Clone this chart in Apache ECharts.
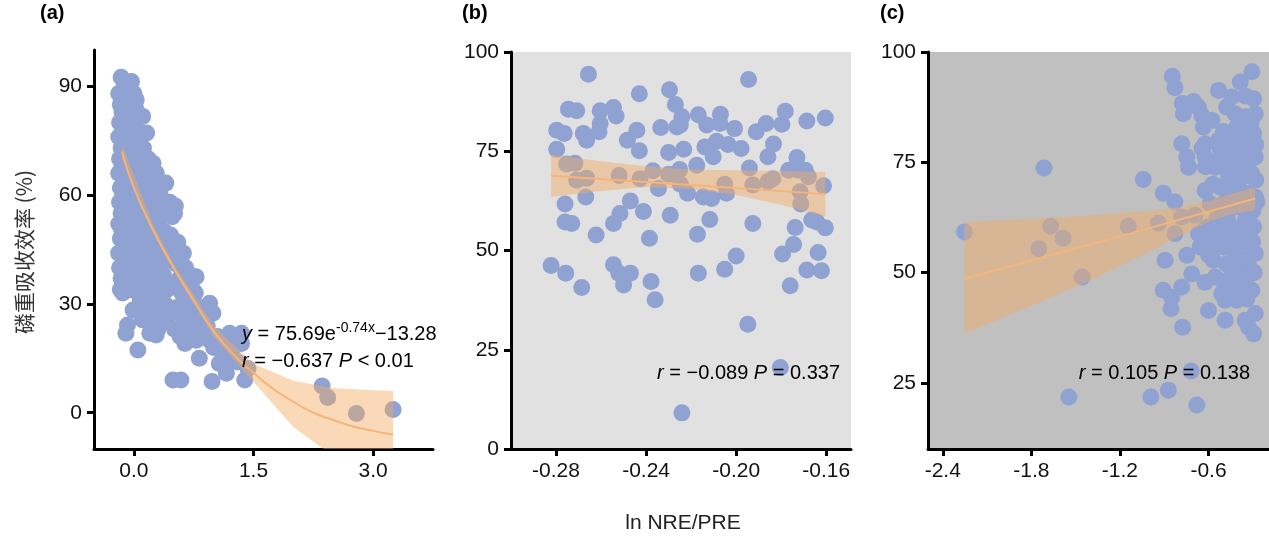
<!DOCTYPE html>
<html lang="zh">
<head>
<meta charset="UTF-8">
<title>chart</title>
<script src="https://cdn.jsdelivr.net/npm/echarts@6/dist/echarts.min.js"></script>
<style>html,body{margin:0;padding:0;background:#fff;}</style>
</head>
<body>
<div id="main" style="width:1269px;height:542px;"></div>
<script type="text/javascript">
// (a) 散点 ln(N/P) vs 磷重吸收效率
var ptsA = [
  [-0.16,92.5],[-0.03,91.3],[0.05,17.3],[-0.01,28.3],[-0.08,24.2],[-0.10,21.9],[0.59,9],[0.49,9],[0.98,8.6],
  [0.82,15],[1.07,13.6],[1.16,10.9],[1.20,21.9],[1.35,21.9],[1.35,19.1],[1.39,9],[1.43,12.2],
  [2.36,7.4],[2.43,4.2],[2.79,-0.2],[3.25,0.9],[0.40,63.3],[0.51,55],[0.45,56.9],[0.95,30.2],[0.99,27.4],
  [0.78,37.5],[0.74,33.9],[0.91,22.8],[0.66,20.1],[0.64,19.1],[0.28,21.4],[0.20,21.9],[0.11,25.6],
  [0.66,25.6],[0.49,28.3],[0.78,24.7],[1.07,20.1],[0.24,68.8],[0.28,66],[0.16,77.1],[0.11,81.7],[0.03,86.3],
  [-0.19,88],[-0.17,85],[-0.18,80],[-0.15,83],[-0.19,76],[-0.16,73],[-0.18,70],[-0.14,78],[-0.19,66],[-0.17,62],
  [-0.15,68],[-0.18,58],[-0.16,55],[-0.19,52],[-0.14,60],[-0.17,48],[-0.19,44],[-0.15,50],[-0.18,40],[-0.16,37],
  [-0.13,42],[-0.17,34],[-0.14,33],[-0.11,36],
  [-0.10,89],[-0.08,86],[-0.12,90],[-0.06,84],[-0.10,80],[-0.07,77],[-0.11,74],[-0.05,72],[-0.09,69],[-0.12,65],
  [-0.06,63],[-0.10,59],[-0.08,56],[-0.12,53],[-0.05,51],[-0.09,47],[-0.11,44],[-0.06,41],[-0.08,38],[-0.12,35],
  [-0.04,34],[-0.02,37],
  [0.00,88],[0.02,84],[-0.01,80],[0.03,78],[0.01,74],[0.04,70],[-0.02,67],[0.02,64],[0.05,61],[0.00,58],[0.03,54],
  [0.06,50],[0.01,47],[0.04,43],[0.07,40],[0.02,36],[0.05,33],[0.08,31],[0.10,34],
  [0.08,82],[0.10,77],[0.12,73],[0.09,68],[0.13,65],[0.11,60],[0.14,56],[0.10,52],[0.15,48],[0.12,44],[0.16,40],
  [0.13,37],[0.18,32],[0.15,28],[0.11,26],
  [0.18,70],[0.20,66],[0.22,62],[0.19,58],[0.24,55],[0.21,51],[0.26,47],[0.23,43],[0.27,39],[0.25,35],[0.29,31],
  [0.26,27],[0.22,24],[0.30,23],
  [0.30,64],[0.33,60],[0.36,57],[0.31,53],[0.38,50],[0.34,46],[0.40,42],[0.37,38],[0.42,34],[0.39,30],[0.44,27],[0.35,25],
  [0.45,58],[0.48,54],[0.52,57],[0.46,49],[0.50,45],[0.55,47],[0.53,41],[0.57,37],[0.49,35],[0.60,33],[0.54,29],
  [0.62,26],[0.51,23],[0.58,21],[0.66,22],
  [0.62,44],[0.65,40],[0.68,36],[0.71,38],[0.70,31],[0.74,28],[0.67,27],[0.77,33],[0.80,25],[0.72,23],[0.84,29],
  [0.88,26],[0.85,21],[0.92,24],[0.95,20],[0.78,20],[1.0,18],[1.05,21],[1.1,17],[1.15,19],[1.22,15],[1.25,18],[1.30,14]
];
var fitA = [[-0.15,72],[0,62],[0.25,50],[0.5,40],[0.75,31],[1.0,22.5],[1.25,16],[1.5,11],[1.75,6.5],[2.0,3],
  [2.25,0],[2.5,-2],[2.75,-3.8],[3.0,-5],[3.25,-6]];
// [x, 下限, 上限]
var bandA = [[-0.15,70,74],[0.25,49,51.5],[0.5,39,41],[1.0,21,24],[1.5,8.5,13.5],[2.0,-4,8.8],[2.38,-10,7.2],
  [2.5,-10,6.8],[3.0,-10,6.2],[3.25,-10,6]];

// (b)
var ptsB = [
  [-0.2822,46.2],[-0.2797,75.5],[-0.2797,80.3],[-0.2764,79.5],[-0.2757,44.3],[-0.276,61.7],[-0.276,57.2],
  [-0.273,56.8],[-0.2745,85.6],[-0.2708,85.2],[-0.2753,71.8],[-0.2716,72],[-0.2708,67.7],[-0.2686,40.7],
  [-0.2679,79.5],[-0.2664,77.8],[-0.2668,63.5],[-0.2656,94.4],[-0.2664,68.2],[-0.2622,53.9],[-0.2604,85.2],
  [-0.2604,82],[-0.2609,79.9],[-0.2545,86],[-0.2533,83.9],[-0.2545,56.8],[-0.2516,59.3],[-0.2545,46.4],
  [-0.2521,44.3],[-0.25,41.3],[-0.247,44.3],[-0.252,68.9],[-0.2483,77.8],[-0.247,62.5],[-0.2441,80.3],
  [-0.243,89.5],[-0.243,75.1],[-0.2427,68.1],[-0.2412,59.8],[-0.2385,53.1],[-0.2378,42.2],[-0.236,37.6],
  [-0.237,70.1],[-0.2345,65.6],[-0.2335,81],[-0.2296,90.5],[-0.23,74.7],[-0.2293,58.9],[-0.23,69.2],
  [-0.227,86.8],[-0.2263,81.1],[-0.2241,83.7],[-0.2248,81.6],[-0.2251,70.4],[-0.2248,66.7],[-0.2233,75.5],
  [-0.2216,64.4],[-0.2241,9.1],[-0.2175,71.5],[-0.2172,54.1],[-0.2168,84.2],[-0.2168,44.3],[-0.2131,81.6],
  [-0.2139,76.1],[-0.2146,63.5],[-0.2109,63.1],[-0.2117,57.8],[-0.2102,73.6],[-0.2087,77.5],[-0.207,84.3],
  [-0.2072,82],[-0.2051,66.7],[-0.2043,64.4],[-0.2051,45.3],[-0.2036,76.7],[-0.2007,80.7],[-0.2,48.6],
  [-0.1978,75.7],[-0.1945,93.1],[-0.1941,70.8],[-0.1948,31.4],[-0.1926,66.5],[-0.1926,56.8],[-0.1911,79.9],
  [-0.1867,82],[-0.1859,73.6],[-0.1859,67.3],[-0.1834,76.8],[-0.1837,68.1],[-0.1804,20.5],[-0.1794,49.1],
  [-0.1797,81.8],[-0.1782,85.1],[-0.1767,70.2],[-0.176,41.1],[-0.1745,51.5],[-0.1738,55.8],[-0.173,73.4],
  [-0.1724,70.2],[-0.1716,64.8],[-0.1713,61.7],[-0.1693,70.2],[-0.1686,82.6],[-0.1686,45.1],[-0.1679,68.6],
  [-0.1664,57.7],[-0.1642,57.2],[-0.1636,49.5],[-0.1621,44.9],[-0.1612,66.3],[-0.1604,83.4],[-0.1604,55.7]
];
var fitB = [[-0.2822,68.8],[-0.22,66.5],[-0.1604,64.2]];
var bandB = [[-0.2822,63.5,74.2],[-0.26,65,72.5],[-0.24,66,71.2],[-0.22,65.5,70.4],[-0.20,64,70.2],
  [-0.18,61.5,70],[-0.1604,58.5,69.8]];

// (c)
var ptsC = [
  [-2.253,59.2],[-1.714,73.7],[-1.669,60.5],[-1.750,55.4],[-1.585,57.8],[-1.456,49],[-1.546,21.8],[-1.143,60.5],
  [-1.042,71.1],[-0.990,21.8],[-0.940,61.2],[-0.906,68],[-0.894,52.8],[-0.906,46],[-0.849,44.4],[-0.854,41.8],
  [-0.845,94.5],[-0.827,91.9],[-0.872,23.3],[-0.827,66],[-0.827,58.8],[-0.781,79.2],[-0.777,88.3],[-0.770,86],
  [-0.781,46.7],[-0.775,37.6],[-0.781,62.6],[-0.747,76.2],[-0.735,73.9],[-0.747,53.9],[-0.718,27.7],[-0.713,49.7],
  [-0.679,20],[-0.702,88.8],[-0.668,87.5],[-0.645,85.6],[-0.691,63],[-0.668,58.8],[-0.657,55.8],[-0.634,83],
  [-0.623,79.2],[-0.645,78.1],[-0.623,76.2],[-0.623,68.6],[-0.623,47.8],[-0.600,60.3],[-0.600,41.4],[-0.589,65.6],
  [-0.600,57.3],[-0.577,84.5],[-0.555,73.9],[-0.566,52.8],[-0.555,49],[-0.544,62.2],[-0.532,91.3],[-0.532,80],
  [-0.521,69.4],[-0.521,59.6],[-0.510,45.2],[-0.498,76.2],[-0.498,65.6],[-0.492,55.8],[-0.487,43.7],[-0.487,39.2],
  [-0.476,87.5],[-0.464,81.5],[-0.464,72.4],[-0.464,64.1],[-0.453,51.3],[-0.442,89.8],[-0.442,77.3],[-0.442,58.8],
  [-0.430,46.7],[-0.419,70.9],[-0.419,54.3],[-0.408,83],[-0.408,43.7],[-0.396,64.9],[-0.396,50.5],[-0.385,93.2],
  [-0.385,79.2],[-0.374,73.9],[-0.374,59.6],[-0.362,45.2],[-0.351,85.3],[-0.351,67.9],[-0.351,39.2],[-0.340,55.8],
  [-0.328,78.5],[-0.328,62.6],[-0.328,37.6],[-0.317,49.7],[-0.306,95.5],[-0.306,72.4],[-0.306,46],[-0.294,89.4],
  [-0.294,81.5],[-0.294,60.4],[-0.294,36.1],[-0.283,86],[-0.283,76.2],[-0.283,67.1],[-0.283,54.3],[-0.283,40.7],
  [-0.272,66],
  [-0.55,75],[-0.52,78],[-0.50,82],[-0.48,70],[-0.46,68],[-0.45,75],[-0.43,80],[-0.41,74],[-0.40,70],[-0.38,76],
  [-0.36,82],[-0.34,72],[-0.32,68],[-0.30,76],[-0.30,64],[-0.32,58],[-0.35,62],[-0.38,56],[-0.42,60],[-0.45,57],
  [-0.48,52],[-0.50,48],[-0.52,56],[-0.56,60],[-0.58,56],[-0.60,54],[-0.62,60],[-0.47,62],[-0.37,66],[-0.33,52],
  [-0.29,50],[-0.36,48],[-0.40,53],[-0.44,49],[-0.53,65],[-0.57,70],[-0.62,74],[-0.42,86],[-0.35,90],[-0.31,84],
  [-0.28,79],[-0.28,71],[-0.30,57],[-0.34,44],[-0.39,47]
];
var fitC = [[-2.253,48.6],[-1.2,58.2],[-0.283,66.8]];
var bandC = [[-2.253,36.1,61.5],[-1.8,42.5,62.2],[-1.4,48.2,63.0],[-1.0,54.8,64.0],[-0.8,58.2,64.8],
  [-0.6,61.5,66.2],[-0.45,63.2,67.8],[-0.283,64.1,69.4]];

var ticksAx = [0, 1.5, 3.0], ticksAy = [0, 30, 60, 90];
var ticksBx = [-0.28, -0.24, -0.20, -0.16];
var ticksCx = [-2.4, -1.8, -1.2, -0.6], ticksCy = [25, 50, 75, 100];

var FONT = 'Liberation Sans, Arial, sans-serif';
var DOT = '#8fa2d2', BANDC = 'rgba(245,170,100,0.45)', LINEC = '#f5b47a';
var FS = 21;

function axisBase(extra) {
    var o = {
        type: 'value', splitLine: {show: false},
        axisLine: {show: true, onZero: false, lineStyle: {color: '#000', width: 3}},
        axisTick: {show: true, length: 7, lineStyle: {color: '#000', width: 3}},
        axisLabel: {color: '#111', fontSize: FS, fontFamily: FONT, margin: 12}
    };
    for (var k in extra) {
        if (typeof extra[k] === 'object' && o[k] && !Array.isArray(extra[k])) {
            for (var j in extra[k]) o[k][j] = extra[k][j];
        } else o[k] = extra[k];
    }
    return o;
}

function bandSeries(band, idx) {
    return {
        type: 'custom', xAxisIndex: idx, yAxisIndex: idx, z: 5, clip: true,
        data: [band[0]],
        renderItem: function (params, api) {
            var pts = [];
            band.forEach(function (d) { pts.push(api.coord([d[0], d[2]])); });
            for (var i = band.length - 1; i >= 0; i--) pts.push(api.coord([band[i][0], band[i][1]]));
            return {type: 'polygon', shape: {points: pts}, style: {fill: BANDC}};
        }
    };
}
function scatterSeries(pts, idx) {
    return {type: 'scatter', xAxisIndex: idx, yAxisIndex: idx, data: pts, symbolSize: 17,
        itemStyle: {color: DOT, opacity: 1}, z: 2};
}
function lineSeries(fit, idx) {
    return {type: 'line', xAxisIndex: idx, yAxisIndex: idx, data: fit, smooth: true, symbol: 'none',
        lineStyle: {color: LINEC, width: 2}, z: 6};
}

var myChart = echarts.init(document.getElementById('main'));
myChart.setOption({
    animation: false,
    grid: [
        {left: 94, top: 50, width: 339, height: 399},
        {left: 511, top: 52, width: 340, height: 397, show: true, backgroundColor: '#e1e1e1', borderWidth: 0},
        {left: 928, top: 52, width: 341, height: 397, show: true, backgroundColor: '#c0c0c0', borderWidth: 0}
    ],
    xAxis: [
        axisBase({gridIndex: 0, min: -0.5, max: 3.75,
            axisTick: {customValues: ticksAx},
            axisLabel: {customValues: ticksAx, formatter: function (v) { return v.toFixed(1); }}}),
        axisBase({gridIndex: 1, min: -0.30, max: -0.149,
            axisTick: {customValues: ticksBx},
            axisLabel: {customValues: ticksBx, formatter: function (v) { return v.toFixed(2); }}}),
        axisBase({gridIndex: 2, min: -2.5, max: -0.19,
            axisTick: {customValues: ticksCx},
            axisLabel: {customValues: ticksCx, formatter: function (v) { return v.toFixed(1); }}})
    ],
    yAxis: [
        axisBase({gridIndex: 0, min: -10, max: 100,
            axisTick: {customValues: ticksAy}, axisLabel: {customValues: ticksAy}}),
        axisBase({gridIndex: 1, min: 0, max: 100, interval: 25}),
        axisBase({gridIndex: 2, min: 10, max: 100,
            axisTick: {customValues: ticksCy}, axisLabel: {customValues: ticksCy}})
    ],
    series: [
        scatterSeries(ptsA, 0), bandSeries(bandA, 0), lineSeries(fitA, 0),
        scatterSeries(ptsB, 1), bandSeries(bandB, 1), lineSeries(fitB, 1),
        scatterSeries(ptsC, 2), bandSeries(bandC, 2), lineSeries(fitC, 2)
    ],
    graphic: [
        {type: 'text', left: 40, top: 3, style: {text: '(a)', font: 'bold 20px ' + FONT, fill: '#000'}},
        {type: 'text', left: 462, top: 3, style: {text: '(b)', font: 'bold 20px ' + FONT, fill: '#000'}},
        {type: 'text', left: 880, top: 3, style: {text: '(c)', font: 'bold 20px ' + FONT, fill: '#000'}},
        {type: 'text', x: 24, y: 252, rotation: Math.PI / 2,
            style: {text: '磷重吸收效率 (%)', font: '21px "Noto Sans CJK SC", ' + FONT, fill: '#333',
                align: 'center', verticalAlign: 'middle'}},
        {type: 'text', x: 683, y: 523,
            style: {text: 'ln NRE/PRE', font: '21px ' + FONT, fill: '#222', align: 'center', verticalAlign: 'middle'}},
        {type: 'text', x: 242, y: 334, z: 10,
            style: {text: '{i|y} = 75.69e{s|-0.74x}−13.28', font: '20px ' + FONT, fill: '#000', verticalAlign: 'middle',
                rich: {i: {fontStyle: 'italic', fontSize: 20, fontFamily: FONT},
                       s: {fontSize: 14, fontFamily: FONT, padding: [0, 0, 12, 0]}}}},
        {type: 'text', x: 242, y: 361, z: 10,
            style: {text: '{i|r} = −0.637 {i|P} < 0.01', font: '20px ' + FONT, fill: '#000', verticalAlign: 'middle',
                rich: {i: {fontStyle: 'italic', fontSize: 20, fontFamily: FONT}}}},
        {type: 'text', x: 840, y: 373, z: 10,
            style: {text: '{i|r} = −0.089 {i|P} = 0.337', font: '20px ' + FONT, fill: '#000', align: 'right', verticalAlign: 'middle',
                rich: {i: {fontStyle: 'italic', fontSize: 20, fontFamily: FONT}}}},
        {type: 'text', x: 1250, y: 373, z: 10,
            style: {text: '{i|r} = 0.105 {i|P} = 0.138', font: '20px ' + FONT, fill: '#000', align: 'right', verticalAlign: 'middle',
                rich: {i: {fontStyle: 'italic', fontSize: 20, fontFamily: FONT}}}}
    ]
});
</script>
</body>
</html>
